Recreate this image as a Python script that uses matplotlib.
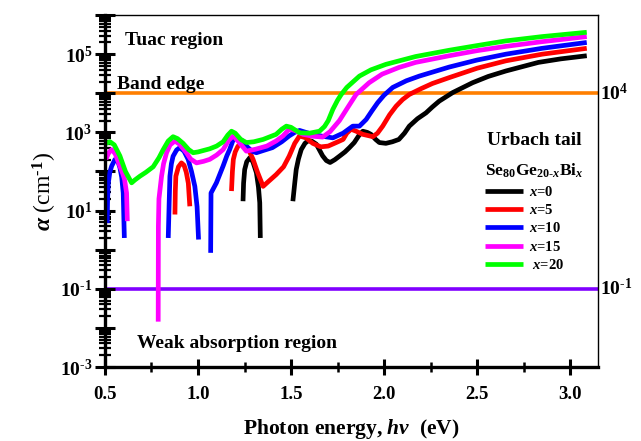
import numpy as np
import matplotlib
matplotlib.use("Agg")
import matplotlib.pyplot as plt
from matplotlib.ticker import FixedLocator, NullFormatter, MultipleLocator

plt.rcParams['font.family'] = ['Liberation Serif', 'DejaVu Serif']
plt.rcParams['font.weight'] = 'bold'
plt.rcParams['mathtext.fontset'] = 'custom'
plt.rcParams['mathtext.rm'] = 'Liberation Serif:bold'
plt.rcParams['mathtext.bf'] = 'Liberation Serif:bold'
plt.rcParams['mathtext.it'] = 'Liberation Serif:italic:bold'

nan = np.nan

# photon energy (eV) and log10(alpha / cm^-1); NaN splits the broken pieces
e_x0 = [1.242, 1.245, 1.251, 1.262, 1.278, 1.295, 1.314, 1.325, 1.332, 1.335, nan,
        1.51, 1.52, 1.528, 1.54, 1.555, 1.575, 1.59, 1.61, 1.636, 1.67, 1.69,
        1.71, 1.735, 1.76, 1.79, 1.814, 1.84, 1.865, 1.886, 1.91, 1.93, 1.955,
        1.975, 2.01, 2.045, 2.08, 2.11, 2.136, 2.18, 2.226, 2.26, 2.297, 2.37,
        2.476, 2.56, 2.655, 2.83, 2.95, 3.09]
la_x0 = [1.24, 1.7, 2.05, 2.25, 2.35, 2.25, 1.97, 1.6, 1.2, 0.30, nan,
         1.24, 1.7, 2.05, 2.32, 2.56, 2.72, 2.78, 2.78, 2.70, 2.40, 2.28,
         2.23, 2.30, 2.39, 2.50, 2.61, 2.74, 2.92, 3.03, 3.0, 2.95, 2.82,
         2.74, 2.72, 2.76, 2.82, 2.98, 3.16, 3.35, 3.50, 3.65, 3.80, 4.02,
         4.27, 4.43, 4.57, 4.79, 4.88, 4.96]

e_x5 = [0.876, 0.878, 0.881, 0.895, 0.911, 0.925, 0.937, 0.948, 0.956, nan,
        1.18, 1.185, 1.19, 1.20, 1.215, 1.242, 1.27, 1.296, 1.32, 1.35, 1.38,
        1.42, 1.46, 1.49, 1.52, 1.546, 1.58, 1.617, 1.66, 1.70, 1.743, 1.78,
        1.80, 1.823, 1.85, 1.886, 1.94, 1.965, 1.993, 2.03, 2.065, 2.10, 2.136,
        2.20, 2.26, 2.35, 2.50, 2.655, 2.85, 3.09]
la_x5 = [0.90, 1.5, 1.88, 2.12, 2.22, 2.16, 1.98, 1.7, 1.11, nan,
         1.50, 2.0, 2.31, 2.5, 2.65, 2.74, 2.58, 2.31, 1.98, 1.62, 1.75,
         1.92, 2.12, 2.39, 2.72, 2.91, 2.86, 2.72, 2.63, 2.65, 2.74, 2.82,
         2.98, 3.08, 3.03, 2.95, 2.89, 2.98, 3.16, 3.45, 3.67, 3.84, 3.97,
         4.12, 4.25, 4.40, 4.64, 4.83, 5.0, 5.15]

e_x10 = [0.512, 0.514, 0.518, 0.526, 0.536, 0.554, 0.57, 0.58, 0.59, 0.598, 0.604, nan,
         0.84, 0.845, 0.849, 0.857, 0.866, 0.885, 0.902, 0.925, 0.947, 0.965,
         0.983, 0.995, 1.003, nan,
         1.068, 1.07, 1.099, 1.135, 1.155, 1.17, 1.19, 1.215, 1.24, 1.26, 1.29,
         1.314, 1.36, 1.40, 1.45, 1.49, 1.52, 1.546, 1.58, 1.617, 1.67, 1.725,
         1.78, 1.832, 1.868, 1.904, 1.935, 1.966, 2.0, 2.047, 2.12, 2.19, 2.35,
         2.50, 2.655, 2.85, 3.09]
la_x10 = [0.68, 1.3, 1.71, 1.98, 2.14, 2.31, 2.25, 2.1, 1.85, 1.45, 0.30, nan,
          0.30, 1.2, 1.88, 2.2, 2.39, 2.55, 2.61, 2.52, 2.31, 2.0,
          1.62, 1.1, 0.26, nan,
          -0.08, 1.45, 1.71, 2.14, 2.4, 2.56, 2.82, 2.86, 2.78, 2.65, 2.52,
          2.48, 2.55, 2.61, 2.76, 2.91, 3.0, 3.05, 3.0, 2.95, 2.90, 2.86,
          2.98, 3.16, 3.16, 3.33, 3.55, 3.76, 3.95, 4.15, 4.32, 4.44, 4.67,
          4.85, 5.0, 5.15, 5.30]

e_x15 = [0.505, 0.52, 0.536, 0.555, 0.58, 0.595, 0.605, 0.616, 0.62, nan,
         0.786, 0.787, 0.79, 0.804, 0.815, 0.831, 0.85, 0.876, 0.90, 0.938,
         0.96, 0.992, 1.03, 1.063, 1.10, 1.135, 1.165, 1.19, 1.22, 1.26, 1.31,
         1.37, 1.42, 1.457, 1.49, 1.52, 1.565, 1.62, 1.67, 1.71, 1.76, 1.80,
         1.85, 1.92, 1.99, 2.08, 2.17, 2.35, 2.50, 2.655, 2.85, 3.09]
la_x15 = [2.31, 2.48, 2.56, 2.45, 2.14, 1.95, 1.8, 1.45, 0.73, nan,
          -1.84, 0.6, 1.3, 1.88, 2.2, 2.48, 2.68, 2.78, 2.70, 2.48,
          2.32, 2.22, 2.26, 2.31, 2.42, 2.56, 2.80, 2.91, 2.75, 2.52, 2.57,
          2.65, 2.78, 2.91, 3.08, 3.05, 2.95, 2.90, 2.88, 3.02, 3.3, 3.6,
          3.97, 4.27, 4.49, 4.66, 4.79, 4.96, 5.09, 5.20, 5.32, 5.45]

e_x20 = [0.505, 0.527, 0.55, 0.58, 0.61, 0.643, 0.66, 0.688, 0.72, 0.759,
         0.79, 0.813, 0.84, 0.866, 0.89, 0.92, 0.95, 0.974, 1.0, 1.063, 1.10,
         1.135, 1.16, 1.18, 1.20, 1.23, 1.26, 1.30, 1.35, 1.42, 1.45, 1.475,
         1.50, 1.546, 1.60, 1.653, 1.68, 1.70, 1.725, 1.75, 1.77, 1.80, 1.868,
         1.93, 2.01, 2.17, 2.35, 2.50, 2.655, 2.85, 3.09]
la_x20 = [2.72, 2.76, 2.68, 2.40, 2.0, 1.71, 1.78, 1.88, 1.98, 2.12,
          2.35, 2.56, 2.78, 2.89, 2.84, 2.72, 2.56, 2.48, 2.50, 2.58, 2.65,
          2.76, 2.93, 3.03, 2.98, 2.82, 2.74, 2.76, 2.82, 2.95, 3.08, 3.16,
          3.13, 2.99, 2.98, 3.03, 3.15, 3.3, 3.59, 3.82, 3.97, 4.15, 4.44,
          4.60, 4.74, 4.94, 5.10, 5.22, 5.34, 5.45, 5.56]

series = [
    (e_x0, la_x0, 'black', '$x$=0'),
    (e_x5, la_x5, 'red', '$x$=5'),
    (e_x10, la_x10, 'blue', '$x$=10'),
    (e_x15, la_x15, 'magenta', '$x$=15'),
    (e_x20, la_x20, 'lime', ' $x$=20'),
]

band_edge = 1e4
weak_limit = 1e-1

fig = plt.figure(figsize=(6.41, 4.41), dpi=100)
ax = fig.add_axes([0.1638, 0.1678, 0.769, 0.798])

for e, la, c, lab in series:
    ax.plot(e, 10 ** np.array(la), color=c, lw=3.4, label=lab,
            solid_capstyle='butt', solid_joinstyle='round')

ax.axhline(band_edge, color='#ff7f00', lw=2.6, zorder=1)
ax.axhline(weak_limit, color='#8000ff', lw=2.6, zorder=1)

ax.set_yscale('log')
ax.set_xlim(0.5, 3.15)
ax.set_ylim(1e-3, 1e6)

# y ticks: long ticks every decade, labels on odd decades only
decades = [10.0 ** k for k in range(-3, 7)]
ax.yaxis.set_major_locator(FixedLocator(decades))
ax.set_yticklabels(['$\\mathregular{10^{%s}}$' % (str(k) if k > 0 else '\\text{-}%d' % -k)
                    if k % 2 else '' for k in range(-3, 7)])
minors = [m * 10.0 ** k for k in range(-3, 6) for m in range(2, 10)]
ax.yaxis.set_minor_locator(FixedLocator(minors))
ax.yaxis.set_minor_formatter(NullFormatter())

ax.set_xticks([0.5, 1.0, 1.5, 2.0, 2.5, 3.0])
ax.set_xticklabels(['0.5', '1.0', '1.5', '2.0', '2.5', '3.0'])
ax.xaxis.set_minor_locator(MultipleLocator(0.25))

ax.tick_params(axis='y', which='major', direction='inout', length=14,
               width=2.2, labelsize=14, pad=2)
ax.tick_params(axis='y', which='minor', direction='inout', length=8,
               width=1.6)
ax.tick_params(axis='x', which='major', direction='inout', length=11,
               width=2.2, labelsize=13.5, pad=8)
ax.tick_params(axis='x', which='minor', direction='inout', length=7,
               width=1.8)

for s in ['left', 'bottom']:
    ax.spines[s].set_linewidth(2.4)
for s in ['top', 'right']:
    ax.spines[s].set_linewidth(1.0)

ax.set_xlabel('Photon energy, $h\\nu$  (eV)', fontsize=15.5,
              fontweight='bold', labelpad=10)
ax.set_ylabel('$\\alpha$ (cm$^{\\text{-}1}$)', fontsize=17,
              fontweight='normal', labelpad=1)

ax.text(0.04, 0.915, 'Tuac region', transform=ax.transAxes, fontsize=14)
ax.text(0.024, 0.79, 'Band edge', transform=ax.transAxes, fontsize=14)
ax.text(0.065, 0.055, 'Weak absorption region', transform=ax.transAxes,
        fontsize=14)
ax.text(1.005, band_edge, '$\\mathregular{10^{4}}$',
        transform=ax.get_yaxis_transform(), fontsize=14, va='center')
ax.text(1.005, weak_limit, '$\\mathregular{10^{\\text{-}1}}$',
        transform=ax.get_yaxis_transform(), fontsize=14, va='center')

ax.text(0.775, 0.63, 'Urbach tail', transform=ax.transAxes, fontsize=14)
leg = ax.legend(loc='upper left', bbox_to_anchor=(0.745, 0.62),
                frameon=False, fontsize=10.5, handlelength=2.6,
                handletextpad=0.4, labelspacing=0.3,
                title='Se$_{80}$Ge$_{20\\text{-}x}$Bi$_{x}$',
                title_fontsize=12.5)
leg._legend_box.align = 'left'

fig.savefig('out.png', dpi=100)
